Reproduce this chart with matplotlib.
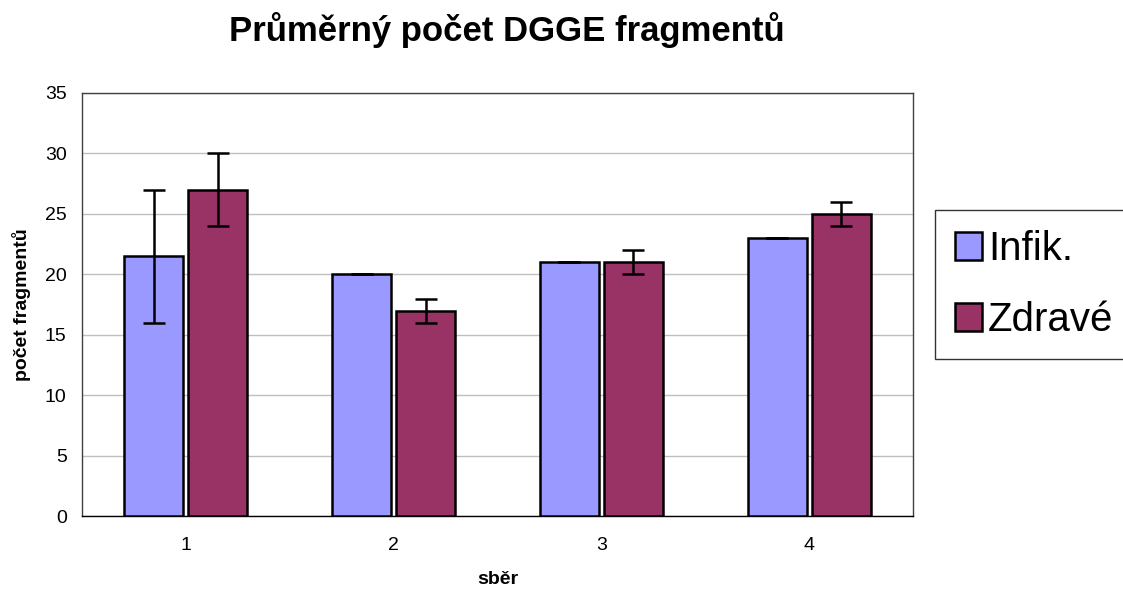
import numpy as np
import matplotlib.pyplot as plt

plt.rcParams['font.family'] = ['Liberation Sans', 'DejaVu Sans']

# data
sber = ['1', '2', '3', '4']
infik = [21.5, 20, 21, 23]
infik_err = [5.5, 0, 0, 0]
zdrave = [27, 17, 21, 25]
zdrave_err = [3, 1, 1, 1]

fig = plt.figure(figsize=(11.23, 5.92), dpi=100)
ax = fig.add_axes([0.073, 0.128, 0.740, 0.715])

x = np.arange(len(sber))
w = 0.284
off = 0.154
ekw = dict(ecolor='black', elinewidth=1.8, capsize=8, capthick=1.8)
ax.bar(x - off, infik, w, color='#9999ff', edgecolor='black', linewidth=1.8,
       yerr=infik_err, error_kw=ekw, label='Infik.', zorder=3)
ax.bar(x + off, zdrave, w, color='#993366', edgecolor='black', linewidth=1.8,
       yerr=zdrave_err, error_kw=ekw, label='Zdravé', zorder=3)

ax.set_xlim(-0.5, len(sber) - 0.5)
ax.set_ylim(0, 35)
ax.set_yticks(np.arange(0, 36, 5))
ax.set_xticks(x)
ax.set_xticklabels(sber)
ax.tick_params(axis='both', length=0, labelsize=14)
ax.tick_params(axis='x', pad=15)
ax.tick_params(axis='y', pad=11)
ax.yaxis.grid(True, color='#c0c0c0', linewidth=1)
ax.set_axisbelow(True)
for s in ax.spines.values():
    s.set_color('#404040')
    s.set_linewidth(1)
ax.spines['bottom'].set_color('black')

ax.set_xlabel('sběr', fontsize=14, fontweight='bold', labelpad=12)
ax.set_ylabel('počet fragmentů', fontsize=14, fontweight='bold', labelpad=10)
fig.suptitle('Průměrný počet DGGE fragmentů', fontsize=25, fontweight='bold',
             x=0.451, y=0.98)

leg = fig.legend(loc='upper left', bbox_to_anchor=(0.8326, 0.6453),
                 fontsize=29, frameon=True, fancybox=False, edgecolor='black',
                 handlelength=0.67, handleheight=0.67, handletextpad=0.15,
                 labelspacing=0.82, borderpad=0.5, borderaxespad=0)
leg.get_frame().set_linewidth(1)

fig.savefig('out.png', dpi=100)
